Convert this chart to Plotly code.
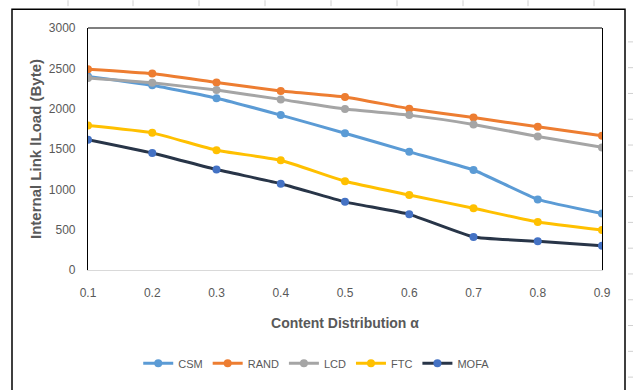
import plotly.graph_objects as go

x_vals = [0.1, 0.2, 0.3, 0.4, 0.5, 0.6, 0.7, 0.8, 0.9]
csm = [2400, 2290, 2130, 1920, 1695, 1465, 1240, 875, 700]
rand = [2490, 2435, 2325, 2220, 2145, 2000, 1890, 1775, 1665]
lcd = [2380, 2320, 2230, 2115, 1995, 1920, 1805, 1655, 1520]
ftc = [1790, 1700, 1485, 1360, 1100, 930, 765, 595, 495]
mofa = [1615, 1450, 1245, 1070, 845, 690, 410, 355, 300]

series = [
    ("CSM", csm, "#5B9BD5", "#5B9BD5"),
    ("RAND", rand, "#ED7D31", "#ED7D31"),
    ("LCD", lcd, "#A5A5A5", "#A5A5A5"),
    ("FTC", ftc, "#FFC000", "#FFC000"),
    ("MOFA", mofa, "#283548", "#4472C4"),
]

FONT = "Liberation Sans Narrow, Arial Narrow, Liberation Sans, Arial"

fig = go.Figure()
for name, vals, lc, mc in series:
    fig.add_trace(go.Scatter(
        x=x_vals, y=vals, name=name, mode="lines+markers",
        line=dict(color=lc, width=3, shape="spline", smoothing=0.4),
        marker=dict(color=mc, size=8),
    ))

W, H = 633, 390
L, R, T, B = 88, 31, 28, 118
pw, ph = W - L - R, H - T - B

def px(X):
    return (X - L) / pw

def py(Y):
    return (H - B - Y) / ph

shapes = []
shapes.append(dict(type="rect", xref="paper", yref="paper",
                   x0=px(12), x1=px(625), y0=py(9), y1=py(400),
                   line=dict(color="#000000", width=1.5), layer="below"))
shapes.append(dict(type="line", xref="paper", yref="paper",
                   x0=0, x1=1, y0=1, y1=1,
                   line=dict(color="#000000", width=1.2)))
for X in [68, 133, 199, 265, 331, 397, 463, 528, 594]:
    shapes.append(dict(type="line", xref="paper", yref="paper",
                       x0=px(X), x1=px(X), y0=py(0), y1=py(6),
                       line=dict(color="#D0D0D0", width=1)))
for Y in range(42, 390, 26):
    shapes.append(dict(type="line", xref="paper", yref="paper",
                       x0=px(628), x1=px(633), y0=py(Y), y1=py(Y),
                       line=dict(color="#D0D0D0", width=1)))

fig.update_layout(
    width=W, height=H,
    margin=dict(l=L, r=R, t=T, b=B),
    paper_bgcolor="white", plot_bgcolor="white",
    font=dict(family=FONT, color="#595959", size=12),
    showlegend=True,
    legend=dict(orientation="h", x=0.445, xanchor="center", y=py(366), yanchor="middle",
                font=dict(size=11, color="#595959", family=FONT),
                itemwidth=30, tracegroupgap=0),
    shapes=shapes,
    xaxis=dict(
        range=[0.1, 0.9], tickvals=x_vals,
        ticktext=[str(v) for v in x_vals],
        showgrid=False, zeroline=False,
        showline=True, linecolor="#D9D9D9", linewidth=1,
        ticks="outside", ticklen=12, tickcolor="rgba(0,0,0,0)",
        tickfont=dict(size=12, color="#595959"),
        title=dict(text="<b>Content Distribution α</b>",
                   font=dict(size=14, color="#595959"), standoff=18),
    ),
    yaxis=dict(
        range=[0, 3000], tickvals=[0, 500, 1000, 1500, 2000, 2500, 3000],
        showgrid=False, zeroline=False,
        showline=True, linecolor="#000000", linewidth=1.2, mirror=True,
        ticks="outside", ticklen=9, tickcolor="rgba(0,0,0,0)",
        tickfont=dict(size=12, color="#595959"),
        title=dict(text="<b>Internal Link lLoad (Byte)</b>",
                   font=dict(size=15, color="#595959"), standoff=3),
    ),
)

fig.write_html("out.html")
